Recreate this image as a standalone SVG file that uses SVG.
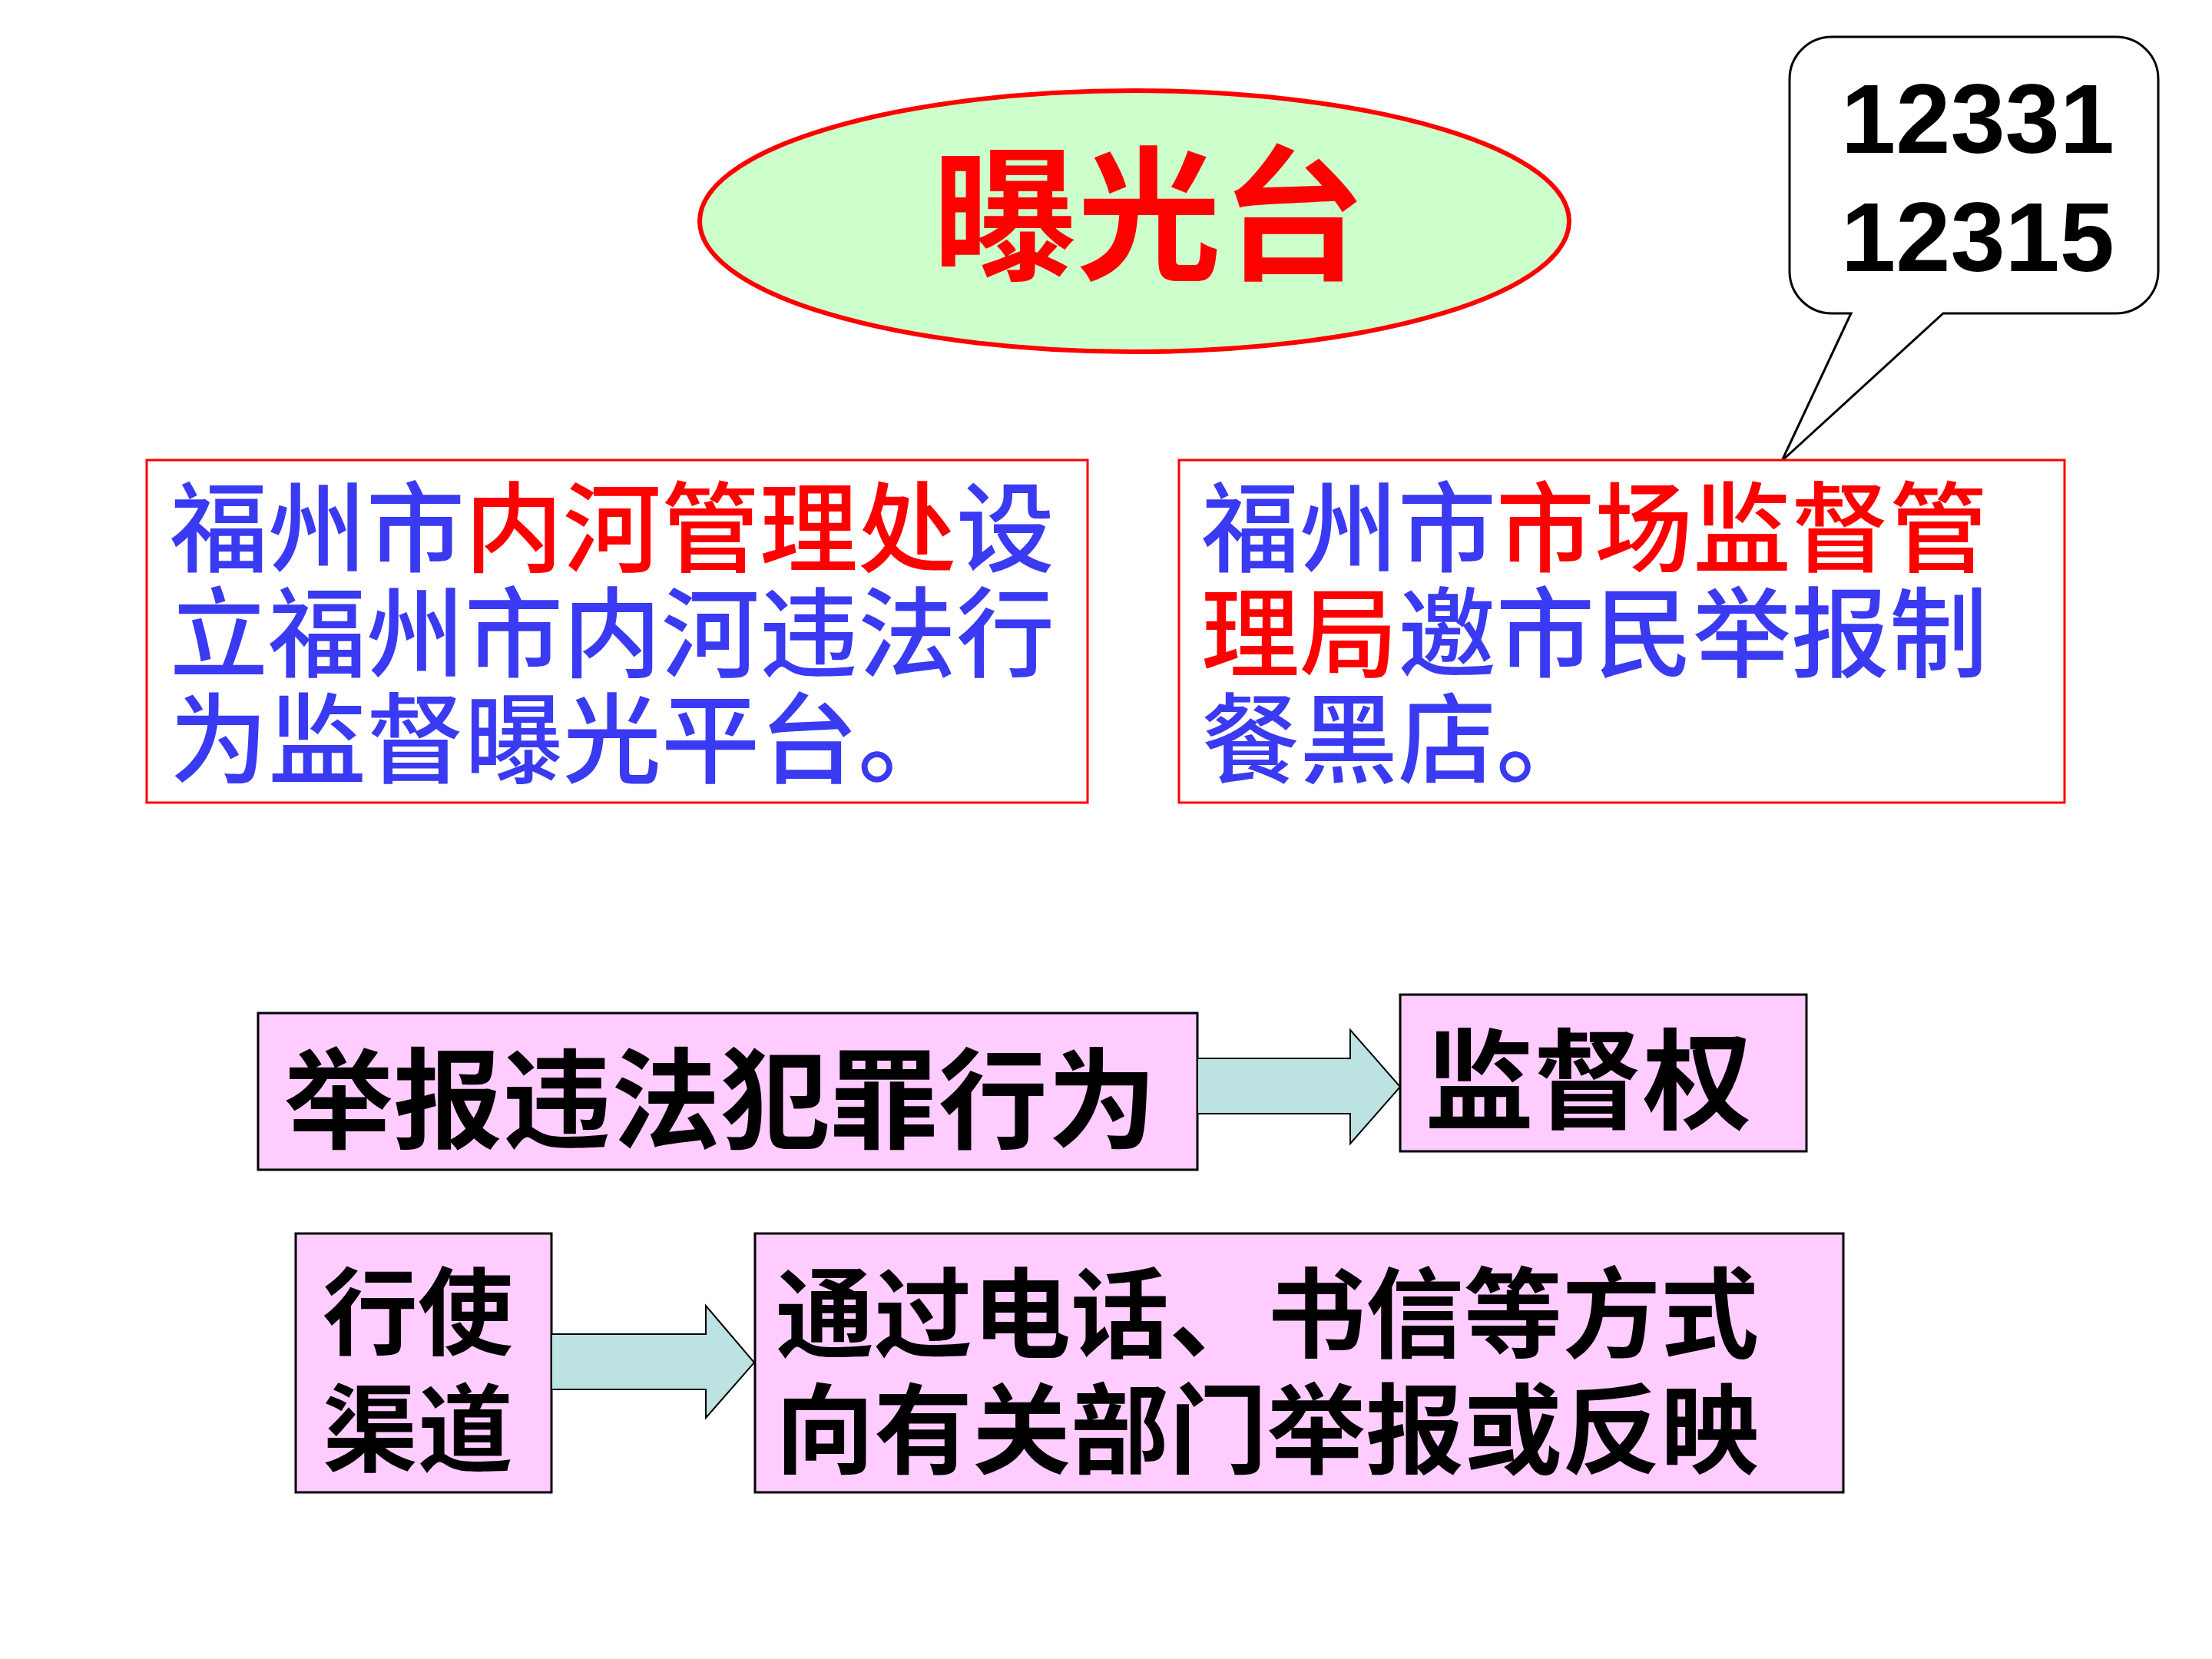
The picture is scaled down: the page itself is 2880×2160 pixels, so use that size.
<svg xmlns="http://www.w3.org/2000/svg" width="2880" height="2160" viewBox="0 0 2880 2160">
<style>
.cjk{font-family:"Noto Sans CJK SC","Noto Sans",sans-serif;font-weight:bold}
.para{font-family:"Noto Sans CJK SC","Noto Sans",sans-serif;font-weight:500}
.blue{fill:#3A3AF2}
.red{fill:#FF0000}
.blk{fill:#000}
.redbox{fill:#FFFFFF;stroke:#FF0000;stroke-width:3}
.pinkbox{fill:#FFCCFF;stroke:#000;stroke-width:3}
.arrow{fill:#BCE2E2;stroke:#000;stroke-width:2}
</style>
<rect width="2880" height="2160" fill="#FFFFFF"/>
<g id="title">
<ellipse cx="1477" cy="288" rx="566" ry="170" fill="#CCFFCC" stroke="#FF0000" stroke-width="6"/>
<text class="cjk red" x="1496" y="349" font-size="188" text-anchor="middle">曝光台</text>
</g>
<g id="callout">
<path d="M2385,48 H2755 A55,55 0 0 1 2810,103 V353 A55,55 0 0 1 2755,408 H2530 L2320,600 L2410,408 H2385 A55,55 0 0 1 2330,353 V103 A55,55 0 0 1 2385,48 Z" fill="#FFFFFF" stroke="#000" stroke-width="3"/>
<text font-family="Liberation Sans,Arial,sans-serif" font-weight="bold" font-size="128" text-anchor="middle"><tspan x="2575" y="199">12331</tspan><tspan x="2575" y="353">12315</tspan></text>
</g>
<g id="box-left">
<rect class="redbox" x="191" y="599" width="1225" height="446"/>
<text class="para blue" font-size="128"><tspan x="221" y="735">福州市<tspan class="red">内河管理处</tspan>设</tspan><tspan x="221" y="872">立福州市内河违法行</tspan><tspan x="221" y="1010">为监督曝光平台。</tspan></text>
</g>
<g id="box-right">
<rect class="redbox" x="1535" y="599" width="1153" height="446"/>
<text class="para blue" font-size="128"><tspan x="1564" y="735">福州市<tspan class="red">市场监督管</tspan></tspan><tspan x="1564" y="872"><tspan class="red">理局</tspan>邀市民举报制</tspan><tspan x="1564" y="1010">餐黑店。</tspan></text>
</g>
<g id="node-report">
<rect class="pinkbox" x="336" y="1319" width="1223" height="204"/>
<text class="cjk blk" font-size="142" x="370" y="1484">举报违法犯罪行为</text>
</g>
<g id="node-supervise">
<rect class="pinkbox" x="1823" y="1295" width="529" height="204"/>
<text class="cjk blk" font-size="142" x="1855" y="1459">监督权</text>
</g>
<g id="node-channel">
<rect class="pinkbox" x="385" y="1606" width="333" height="337"/>
<text class="cjk blk" font-size="124"><tspan x="420" y="1754">行使</tspan><tspan x="420" y="1906">渠道</tspan></text>
</g>
<g id="node-method">
<rect class="pinkbox" x="983" y="1606" width="1417" height="337"/>
<text class="cjk blk" font-size="128"><tspan x="1010" y="1758">通过电话、书信等方式</tspan><tspan x="1010" y="1909">向有关部门举报或反映</tspan></text>
</g>
<g id="connectors">
<path class="arrow" d="M1559,1378 H1758 V1341 L1823,1415 L1758,1489 V1450 H1559 Z"/>
<path class="arrow" d="M718,1737 H919 V1700 L982,1774 L919,1846 V1809 H718 Z"/>
</g>
</svg>
